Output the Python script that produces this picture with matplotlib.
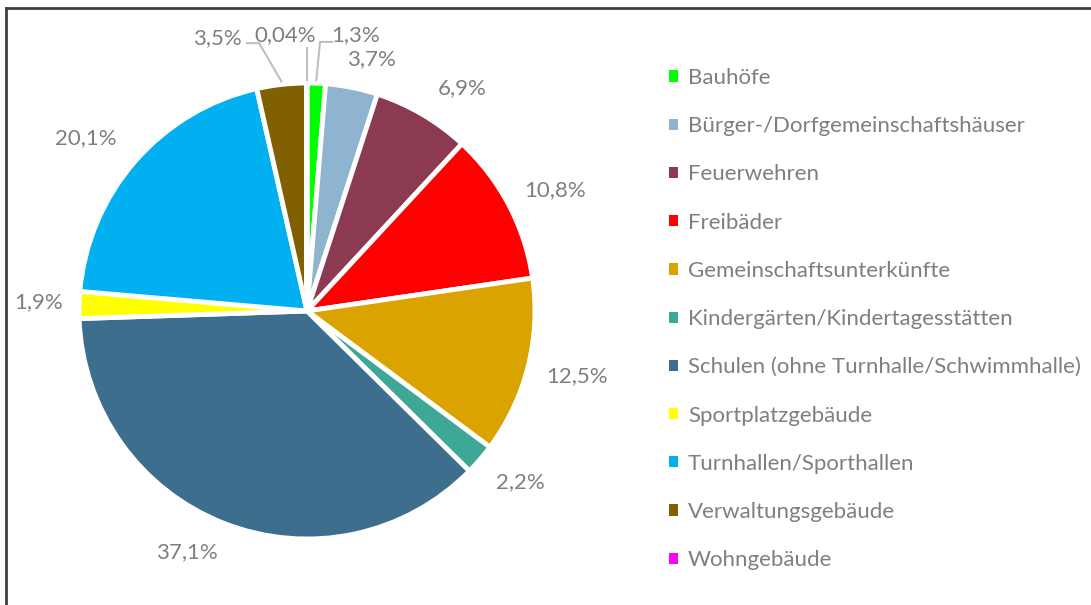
import matplotlib
matplotlib.use("Agg")
import matplotlib.pyplot as plt
import numpy as np

categories = ["Bauhöfe", "Bürger-/Dorfgemeinschaftshäuser", "Feuerwehren", "Freibäder",
              "Gemeinschaftsunterkünfte", "Kindergärten/Kindertagesstätten",
              "Schulen (ohne Turnhalle/Schwimmhalle)", "Sportplatzgebäude",
              "Turnhallen/Sporthallen", "Verwaltungsgebäude", "Wohngebäude"]
values = [1.3, 3.7, 6.9, 10.8, 12.5, 2.2, 37.1, 1.9, 20.1, 3.5, 0.04]
labels = ["1,3%", "3,7%", "6,9%", "10,8%", "12,5%", "2,2%", "37,1%", "1,9%", "20,1%", "3,5%", "0,04%"]
colors = ["#00FF00", "#8EB4CF", "#8B3A52", "#FF0000", "#DAA300", "#3FA796",
          "#3D6E8E", "#FFFF00", "#00B0F0", "#806000", "#FF00FF"]

plt.rcParams['font.family'] = ['Lato', 'DejaVu Sans']
TXT = "#7F7F7F"
LINE = "#BFBFBF"
FS = 16

W, H = 1091, 605
fig = plt.figure(figsize=(W / 100, H / 100), dpi=100)

cx, cy, R = 307, 311, 228
ax = fig.add_axes([(cx - R) / W, (H - cy - R) / H, 2 * R / W, 2 * R / H])

wedges, _ = ax.pie(values, colors=colors, startangle=90, counterclock=False,
                   radius=1.0, wedgeprops=dict(edgecolor="white", linewidth=3.5))
ax.set_xlim(-1, 1)
ax.set_ylim(-1, 1)
ax.set_aspect("equal")

# label placement: (angle shift in degrees, distance) for outside labels
place = {"3,7%": (-3.0, 1.14), "6,9%": (-4.4, 1.19), "10,8%": (-1.8, 1.21),
         "12,5%": (0.7, 1.22), "2,2%": (1.8, 1.20), "37,1%": (-5.2, 1.18),
         "1,9%": (-0.4, 1.18), "20,1%": (3.0, 1.23)}
# leader-line labels: text position, and leader elbow points (data units)
leader = {"1,3%": ((0.215, 1.21), [(0.11, 1.18), (0.057, 1.18)]),
          "0,04%": ((-0.096, 1.21), [(None, 1.153)]),
          "3,5%": ((-0.395, 1.197), [(-0.263, 1.175), (-0.21, 1.175)])}

for w, lab in zip(wedges, labels):
    mid = (w.theta1 + w.theta2) / 2
    if lab in leader:
        (tx, ty), elbows = leader[lab]
        ang = np.deg2rad(mid)
        xr, yr = np.cos(ang), np.sin(ang) + 0.013
        ax.text(tx, ty, lab, ha="center", va="center", fontsize=FS, color=TXT)
        pts = [(xr if ex is None else ex, ey) for ex, ey in elbows] + [(xr, yr)]
        xs, ys = zip(*pts)
        ax.plot(xs, ys, color=LINE, lw=1.5, clip_on=False, solid_joinstyle="miter")
    else:
        dang, d = place[lab]
        ang = np.deg2rad(mid + dang)
        ax.text(d * np.cos(ang), d * np.sin(ang), lab, ha="center", va="center",
                fontsize=FS, color=TXT)

leg = ax.legend(wedges, categories, loc="upper left",
                bbox_to_anchor=(669 / W, (H - 68) / H), bbox_transform=fig.transFigure,
                frameon=False, fontsize=FS, labelcolor=TXT,
                handlelength=0.4, handleheight=0.4, handletextpad=0.45,
                labelspacing=1.27, borderpad=0, borderaxespad=0)
for h in leg.legend_handles:
    h.set_edgecolor("none")

# outer border (top and left only visible)
fig.add_artist(plt.Line2D([6 / W, 6 / W], [0, (H - 8) / H], transform=fig.transFigure,
                          color="#404040", lw=2))
fig.add_artist(plt.Line2D([6 / W, 1], [(H - 8) / H, (H - 8) / H], transform=fig.transFigure,
                          color="#404040", lw=2))

fig.savefig("out.png", dpi=100)
